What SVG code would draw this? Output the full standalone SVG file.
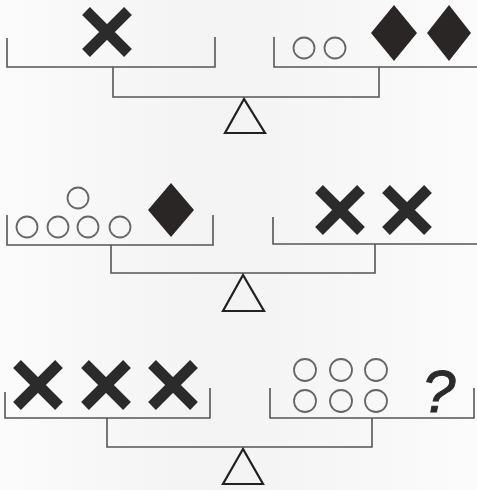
<svg xmlns="http://www.w3.org/2000/svg" width="477" height="490" viewBox="0 0 477 490">
<defs>
<style>
.pan{fill:none;stroke:#555;stroke-width:1.6}
.beam{fill:none;stroke:#555;stroke-width:1.6}
.fulcrum{fill:none;stroke:#222;stroke-width:2.2;stroke-linejoin:miter}
.x{fill:none;stroke:#2b2b2b;stroke-width:11}
.o{fill:none;stroke:#666;stroke-width:1.8}
.d{fill:#2b2626}
.q{font-family:"Liberation Sans",Arial,sans-serif;font-style:italic;font-size:60px;fill:#2b2b2b;stroke:#2b2b2b;stroke-width:1}
</style>
<linearGradient id="bg" x1="0" y1="0" x2="1" y2="0">
<stop offset="0" stop-color="#fbfbfb"/>
<stop offset="0.45" stop-color="#f3f3f3"/>
<stop offset="0.6" stop-color="#f5f5f5"/>
<stop offset="1" stop-color="#fbfbfb"/>
</linearGradient>
<g id="xm"><path d="M-21,-21L21,21M21,-21L-21,21"/></g>
</defs>
<rect width="477" height="490" fill="url(#bg)"/>

<g id="connectors">
<path class="pan" d="M7,38V67H215V37"/>
<path class="pan" d="M274,37V67H477"/>
<path class="beam" d="M113,67V97H379V67"/>
<path class="pan" d="M7,215V245H213V215"/>
<path class="pan" d="M273,217V244H477"/>
<path class="beam" d="M111,245V273H375V244"/>
<path class="pan" d="M5,392V418H210V388"/>
<path class="pan" d="M270,388V418H474V388"/>
<path class="beam" d="M107,418V447H372V418"/>
</g>

<g id="fulcrum1"><polygon class="fulcrum" points="244,99 225,133 265,133"/></g>
<g id="fulcrum2"><polygon class="fulcrum" points="243,275 223,311 264,311"/></g>
<g id="fulcrum3"><polygon class="fulcrum" points="243,449 223,484 263,484"/></g>

<g id="pan1-left"><use href="#xm" class="x" x="107" y="32"/></g>
<g id="pan1-right">
<circle class="o" cx="304" cy="48" r="10.5"/>
<circle class="o" cx="335" cy="48" r="10.5"/>
<polygon class="d" points="394,5 417,33 394,61 371,33"/>
<polygon class="d" points="449,5 471,33 449,61 427,33"/>
</g>

<g id="pan2-left">
<circle class="o" cx="78" cy="198" r="10.5"/>
<circle class="o" cx="27" cy="227" r="10.5"/>
<circle class="o" cx="58" cy="227" r="10.5"/>
<circle class="o" cx="88" cy="227" r="10.5"/>
<circle class="o" cx="120" cy="227" r="10.5"/>
<polygon class="d" points="171,183 194,210 171,237 148,210"/>
</g>
<g id="pan2-right">
<use href="#xm" class="x" x="340" y="210"/>
<use href="#xm" class="x" x="407" y="210"/>
</g>

<g id="pan3-left">
<use href="#xm" class="x" x="38" y="385"/>
<use href="#xm" class="x" x="106" y="385"/>
<use href="#xm" class="x" x="173" y="385"/>
</g>
<g id="pan3-right">
<circle class="o" cx="305" cy="370" r="11"/>
<circle class="o" cx="341" cy="370" r="11"/>
<circle class="o" cx="376" cy="370" r="11"/>
<circle class="o" cx="305" cy="401" r="11"/>
<circle class="o" cx="341" cy="401" r="11"/>
<circle class="o" cx="376" cy="401" r="11"/>
<text class="q" x="422" y="412">?</text>
</g>
</svg>
